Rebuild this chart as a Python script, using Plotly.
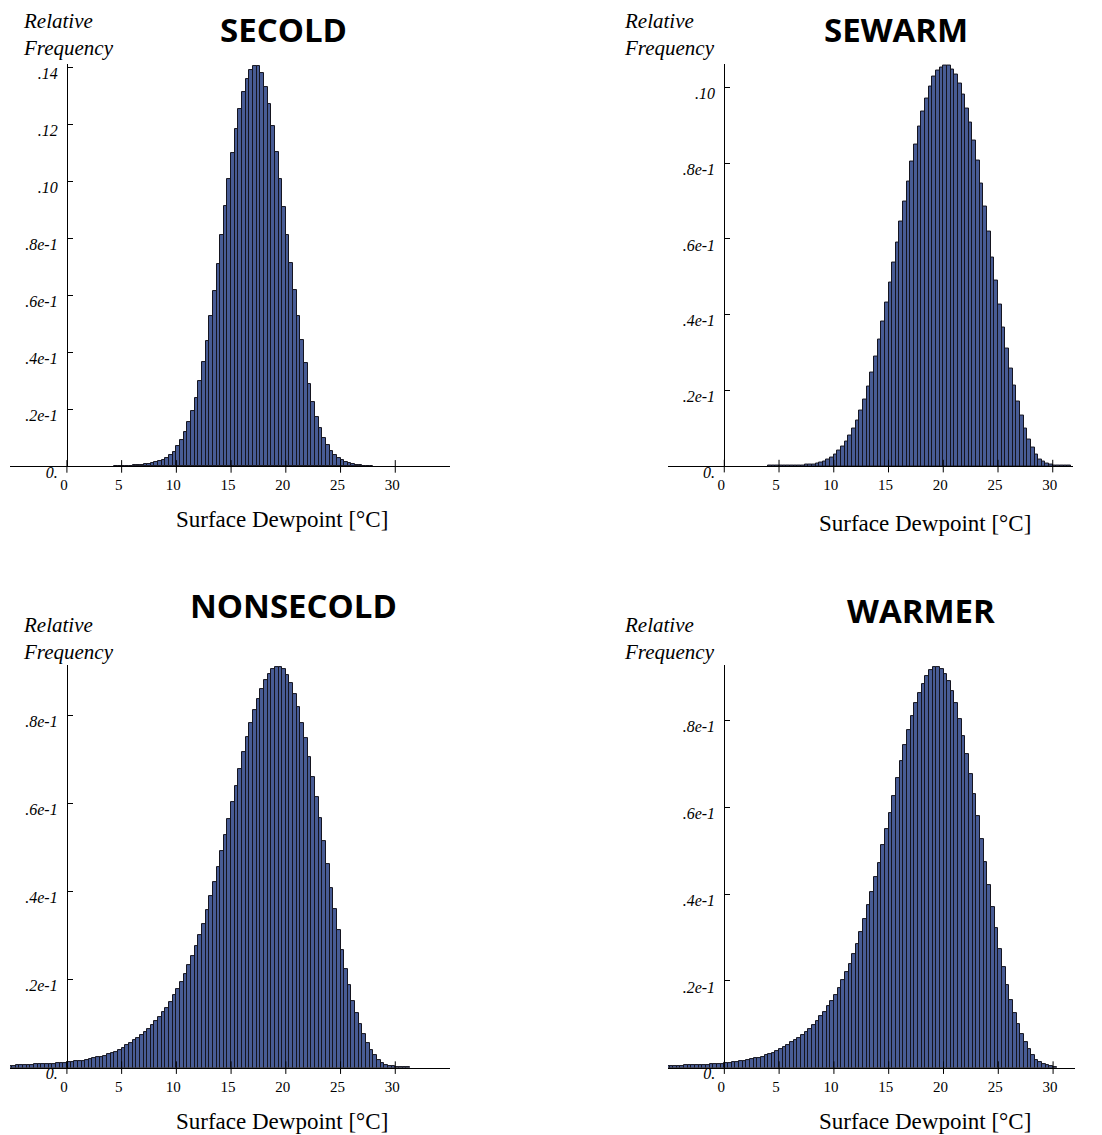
import plotly.graph_objects as go

# ---------------------------------------------------------------------------
# Histogram data: relative frequency per 1/3 degC bin of surface dewpoint.
# Each series lists consecutive bins starting at the given left bin edge.
# ---------------------------------------------------------------------------
BIN_WIDTH = 1 / 3

secold_first_edge = 13 / 3
secold_freq = [
    0.0001, 0.0002, 0.0002, 0.0003, 0.0003, 0.0004, 0.0005, 0.0006, 0.0008, 0.0010,
    0.0012, 0.0015, 0.0019, 0.0024, 0.0031, 0.0040, 0.0052, 0.0072, 0.0094, 0.0121,
    0.0155, 0.0194, 0.0241, 0.0299, 0.0366, 0.0439, 0.0526, 0.0614, 0.0711, 0.0812,
    0.0912, 0.1009, 0.1101, 0.1185, 0.1255, 0.1313, 0.1360, 0.1392, 0.1406, 0.1404,
    0.1380, 0.1331, 0.1273, 0.1193, 0.1103, 0.1009, 0.0909, 0.0810, 0.0713, 0.0620,
    0.0527, 0.0442, 0.0364, 0.0290, 0.0225, 0.0173, 0.0134, 0.0100, 0.0074, 0.0055,
    0.0041, 0.0030, 0.0022, 0.0016, 0.0011, 0.0008, 0.0006, 0.0004, 0.0003, 0.0002,
    0.0001,
]

sewarm_first_edge = 12 / 3
sewarm_freq = [
    0.0001, 0.0001, 0.0001, 0.0001, 0.0001, 0.0001, 0.0002, 0.0002, 0.0002, 0.0002,
    0.0003, 0.0003, 0.0004, 0.0006, 0.0009, 0.0012, 0.0017, 0.0023, 0.0030, 0.0041,
    0.0052, 0.0065, 0.0080, 0.0099, 0.0120, 0.0146, 0.0175, 0.0209, 0.0246, 0.0290,
    0.0334, 0.0381, 0.0433, 0.0486, 0.0537, 0.0590, 0.0645, 0.0698, 0.0751, 0.0804,
    0.0850, 0.0896, 0.0936, 0.0971, 0.1002, 0.1028, 0.1044, 0.1053, 0.1059, 0.1058,
    0.1048, 0.1035, 0.1011, 0.0981, 0.0944, 0.0907, 0.0861, 0.0808, 0.0746, 0.0685,
    0.0619, 0.0552, 0.0489, 0.0426, 0.0367, 0.0310, 0.0257, 0.0213, 0.0171, 0.0134,
    0.0099, 0.0070, 0.0048, 0.0030, 0.0018, 0.0011, 0.0006, 0.0004, 0.0002, 0.0002,
    0.0001, 0.0001, 0.0001,
]

nonsecold_first_edge = -16 / 3
nonsecold_freq = [
    0.0004, 0.0004, 0.0005, 0.0005, 0.0005, 0.0006, 0.0006, 0.0007, 0.0007, 0.0008,
    0.0008, 0.0009, 0.0009, 0.0010, 0.0010, 0.0011, 0.0012, 0.0013, 0.0014, 0.0015,
    0.0016, 0.0018, 0.0019, 0.0021, 0.0023, 0.0025, 0.0027, 0.0030, 0.0033, 0.0036,
    0.0040, 0.0045, 0.0051, 0.0056, 0.0062, 0.0068, 0.0074, 0.0081, 0.0087, 0.0096,
    0.0105, 0.0115, 0.0126, 0.0136, 0.0150, 0.0164, 0.0178, 0.0195, 0.0212, 0.0233,
    0.0253, 0.0276, 0.0301, 0.0327, 0.0358, 0.0389, 0.0421, 0.0455, 0.0491, 0.0529,
    0.0565, 0.0603, 0.0640, 0.0678, 0.0716, 0.0751, 0.0783, 0.0812, 0.0838, 0.0861,
    0.0880, 0.0895, 0.0905, 0.0911, 0.0911, 0.0905, 0.0892, 0.0873, 0.0848, 0.0820,
    0.0784, 0.0748, 0.0706, 0.0661, 0.0614, 0.0566, 0.0514, 0.0462, 0.0409, 0.0360,
    0.0312, 0.0267, 0.0225, 0.0187, 0.0152, 0.0123, 0.0098, 0.0076, 0.0055, 0.0039,
    0.0028, 0.0017, 0.0010, 0.0006, 0.0004, 0.0003, 0.0002, 0.0002, 0.0001, 0.0001,
]

warmer_first_edge = -16 / 3
warmer_freq = [
    0.0003, 0.0003, 0.0004, 0.0004, 0.0004, 0.0005, 0.0005, 0.0005, 0.0006, 0.0006,
    0.0007, 0.0007, 0.0008, 0.0008, 0.0009, 0.0009, 0.0010, 0.0011, 0.0012, 0.0013,
    0.0014, 0.0015, 0.0017, 0.0019, 0.0021, 0.0023, 0.0025, 0.0028, 0.0031, 0.0034,
    0.0038, 0.0042, 0.0047, 0.0052, 0.0058, 0.0063, 0.0069, 0.0076, 0.0083, 0.0090,
    0.0099, 0.0108, 0.0118, 0.0129, 0.0141, 0.0154, 0.0168, 0.0184, 0.0201, 0.0220,
    0.0240, 0.0262, 0.0286, 0.0313, 0.0343, 0.0374, 0.0406, 0.0439, 0.0473, 0.0513,
    0.0550, 0.0588, 0.0627, 0.0668, 0.0708, 0.0744, 0.0778, 0.0812, 0.0840, 0.0864,
    0.0885, 0.0904, 0.0918, 0.0925, 0.0925, 0.0919, 0.0908, 0.0892, 0.0869, 0.0840,
    0.0804, 0.0765, 0.0723, 0.0678, 0.0631, 0.0581, 0.0527, 0.0475, 0.0422, 0.0371,
    0.0322, 0.0273, 0.0231, 0.0191, 0.0156, 0.0127, 0.0100, 0.0077, 0.0058, 0.0042,
    0.0028, 0.0018, 0.0012, 0.0008, 0.0005, 0.0003, 0.0001,
]

# Axis ticks and their labels
x_tick_vals = [0, 5, 10, 15, 20, 25, 30]
y_ticks_014 = [0, 0.02, 0.04, 0.06, 0.08, 0.10, 0.12, 0.14]
y_labels_014 = ["0.", ".2e-1", ".4e-1", ".6e-1", ".8e-1", ".10", ".12", ".14"]
y_ticks_010 = [0, 0.02, 0.04, 0.06, 0.08, 0.10]
y_labels_010 = ["0.", ".2e-1", ".4e-1", ".6e-1", ".8e-1", ".10"]
y_ticks_008 = [0, 0.02, 0.04, 0.06, 0.08]
y_labels_008 = ["0.", ".2e-1", ".4e-1", ".6e-1", ".8e-1"]

panel_titles = ["SECOLD", "SEWARM", "NONSECOLD", "WARMER"]
y_title = "Relative<br>Frequency"
x_title = "Surface Dewpoint [°C]"

# ---------------------------------------------------------------------------
# Page layout: positions are given on a 1102 x 1135 grid and converted to
# paper fractions; the figure itself is drawn a little taller.
# ---------------------------------------------------------------------------
GRID_W, GRID_H = 1102, 1135
FIG_W, FIG_H = 1102, 1151
BAR_FILL = "#485c95"
BAR_EDGE = "#15151f"
SERIF = "Liberation Serif"

panels = [
    dict(first=secold_first_edge, freq=secold_freq, yt=y_ticks_014, yl=y_labels_014,
         box=(10, 450, 64, 466), xr=(-5.2, 35.0),
         title=(283.5, 29), ylab=(21, 34), xlab=(282, 519)),
    dict(first=sewarm_first_edge, freq=sewarm_freq, yt=y_ticks_010, yl=y_labels_010,
         box=(668, 1073, 63.5, 465.7), xr=(-5.14, 31.85),
         title=(895.5, 29), ylab=(622, 34), xlab=(925, 523)),
    dict(first=nonsecold_first_edge, freq=nonsecold_freq, yt=y_ticks_008, yl=y_labels_008,
         box=(10, 450, 664.5, 1066.7), xr=(-5.2, 35.0),
         title=(293.5, 605), ylab=(21, 638), xlab=(282, 1121)),
    dict(first=warmer_first_edge, freq=warmer_freq, yt=y_ticks_008, yl=y_labels_008,
         box=(668, 1075, 664.5, 1066.7), xr=(-5.14, 32.0),
         title=(921, 610), ylab=(622, 638), xlab=(925, 1121)),
]

fig = go.Figure()
layout = dict(
    width=FIG_W, height=FIG_H,
    margin=dict(l=0, r=0, t=0, b=0),
    paper_bgcolor="white", plot_bgcolor="white",
    showlegend=False, bargap=0,
    annotations=[],
)


def px(x, y):
    return x / GRID_W, 1 - y / GRID_H


for i, (p, title) in enumerate(zip(panels, panel_titles), start=1):
    suffix = "" if i == 1 else str(i)
    xs, ys = "x" + suffix, "y" + suffix
    freq = p["freq"]
    centers = [p["first"] + (j + 0.5) * BIN_WIDTH for j in range(len(freq))]

    fig.add_trace(go.Bar(
        x=centers, y=freq, width=BIN_WIDTH, xaxis=xs, yaxis=ys,
        marker=dict(color=BAR_FILL, line=dict(color=BAR_EDGE, width=1)),
        hoverinfo="skip",
    ))
    # crossing tick marks on the horizontal axis
    fig.add_trace(go.Scatter(
        x=x_tick_vals, y=[0] * len(x_tick_vals), xaxis=xs, yaxis=ys,
        mode="markers", cliponaxis=False, hoverinfo="skip",
        marker=dict(symbol="line-ns", size=9, color="black",
                    line=dict(color="black", width=1)),
    ))

    l, r, t, b = p["box"]
    x0, x1 = p["xr"]
    ypos = (l + (0 - x0) / (x1 - x0) * (r - l)) / GRID_W

    layout["xaxis" + suffix] = dict(
        domain=[l / GRID_W, r / GRID_W], range=[x0, x1], anchor=ys,
        showline=True, linecolor="black", linewidth=1,
        showgrid=False, zeroline=False, ticks="",
        tickvals=x_tick_vals, ticktext=[str(v) for v in x_tick_vals],
        tickfont=dict(family=SERIF, size=15, color="black"),
        ticklabelshift=-3, ticklabelstandoff=5,
        fixedrange=True,
    )
    layout["yaxis" + suffix] = dict(
        domain=[1 - b / GRID_H, 1 - t / GRID_H], range=[0, max(freq) * 1.004],
        anchor="free", position=ypos, side="left",
        showline=True, linecolor="black", linewidth=1,
        showgrid=False, zeroline=False,
        ticks="inside", ticklen=5, tickwidth=1, tickcolor="black",
        tickvals=p["yt"], ticktext=p["yl"],
        tickfont=dict(family=SERIF, size=16, color="black", style="italic"),
        ticklabelshift=6, ticklabelstandoff=6,
        fixedrange=True,
    )

    tx, ty = px(*p["title"])
    layout["annotations"].append(dict(
        text=title, x=tx, y=ty, xref="paper", yref="paper",
        xanchor="center", yanchor="middle", showarrow=False,
        font=dict(family="Open Sans", size=33, color="black", weight="bold"),
    ))
    lx, ly = px(*p["ylab"])
    layout["annotations"].append(dict(
        text=y_title, x=lx, y=ly, xref="paper", yref="paper",
        xanchor="left", yanchor="middle", align="left", showarrow=False,
        font=dict(family=SERIF, size=21, color="black", style="italic"),
    ))
    ax, ay = px(*p["xlab"])
    layout["annotations"].append(dict(
        text=x_title, x=ax, y=ay, xref="paper", yref="paper",
        xanchor="center", yanchor="middle", showarrow=False,
        font=dict(family=SERIF, size=23, color="black"),
    ))

fig.update_layout(**layout)

# the figure sits flush against the page edges
page_css = (
    "document.documentElement.style.margin='0';"
    "document.body.style.margin='0';"
    "document.body.style.overflow='hidden';"
)
fig.write_html("out.html", post_script=page_css)
